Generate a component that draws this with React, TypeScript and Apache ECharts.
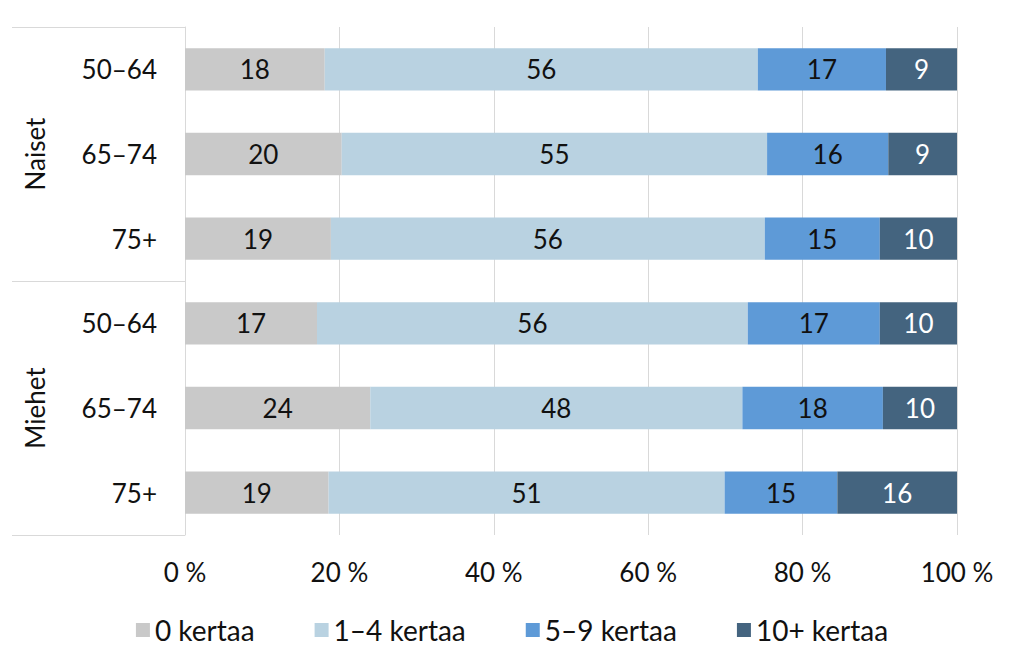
import React, { useEffect, useRef } from "react";
import * as echarts from "echarts";

const categories = ["50–64", "65–74", "75+", "50–64", "65–74", "75+"];
const groups = ["Naiset", "Miehet"];
const seriesNames = ["0 kertaa", "1–4 kertaa", "5–9 kertaa", "10+ kertaa"];
const zero = [18.1, 20.3, 18.9, 17.1, 24.0, 18.6];
const oneToFour = [56.1, 55.1, 56.2, 55.8, 48.2, 51.3];
const fiveToNine = [16.6, 15.7, 14.9, 17.1, 18.2, 14.6];
const tenPlus = [9.2, 8.9, 10.0, 10.0, 9.6, 15.5];
const xTicks = [0, 20, 40, 60, 80, 100];

const colors = ["#C9C9C9", "#B9D2E1", "#5E9AD7", "#44647F"];
const labelColors = ["#111111", "#111111", "#111111", "#FFFFFF"];
const FONT = "Lato";

export default function App() {
  const ref = useRef<HTMLDivElement>(null);
  useEffect(() => {
    if (!ref.current) return;
    const chart = echarts.init(ref.current, null, { renderer: "svg" });
    const values = [zero, oneToFour, fiveToNine, tenPlus];
    chart.setOption({
      animation: false,
      textStyle: { fontFamily: FONT },
      grid: { left: 185, right: 67, top: 27, bottom: 134 },
      xAxis: {
        type: "value",
        min: xTicks[0],
        max: xTicks[xTicks.length - 1],
        interval: 20,
        axisLine: { show: false },
        axisTick: { show: false },
        splitLine: { lineStyle: { color: "#D9D9D9", width: 1 } },
        axisLabel: {
          formatter: "{value} %",
          fontSize: 26,
          color: "#111111",
          margin: 24,
          fontFamily: FONT,
        },
      },
      yAxis: [
        {
          type: "category",
          data: categories,
          inverse: true,
          axisLine: { show: true, lineStyle: { color: "#D9D9D9" } },
          axisTick: { show: false },
          axisLabel: { fontSize: 26, color: "#111111", margin: 28, fontFamily: FONT },
        },
        {
          type: "category",
          data: groups,
          inverse: true,
          position: "left",
          axisLine: { show: false },
          axisTick: { show: true, length: 173, lineStyle: { color: "#D9D9D9" } },
          axisLabel: {
            rotate: 90,
            margin: 150,
            align: "center",
            verticalAlign: "middle",
            fontSize: 26,
            color: "#111111",
            fontFamily: FONT,
          },
        },
      ],
      legend: {
        bottom: 20,
        left: "center",
        itemWidth: 14,
        itemHeight: 14,
        itemGap: 60,
        icon: "rect",
        textStyle: { fontSize: 28, color: "#111111", fontFamily: FONT },
        data: seriesNames,
      },
      series: seriesNames.map((name, i) => ({
        name,
        type: "bar",
        stack: "total",
        yAxisIndex: 0,
        barCategoryGap: "50%",
        data: values[i],
        itemStyle: { color: colors[i] },
        label: {
          show: true,
          position: "inside",
          fontSize: 26,
          color: labelColors[i],
          fontFamily: FONT,
          formatter: (p: any) => String(Math.round(p.value)),
        },
      })),
    });
    return () => chart.dispose();
  }, []);
  return <div ref={ref} style={{ width: 1024, height: 669, position: "absolute", left: 0, top: 0 }} />;
}
